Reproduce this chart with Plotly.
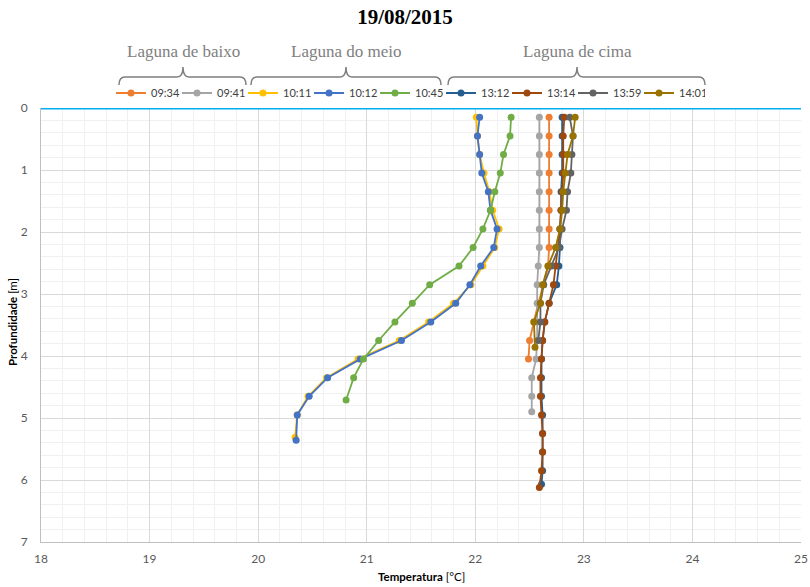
import plotly.graph_objects as go

# ---------------- data ----------------
series_names = ["09:34", "09:41", "10:11", "10:12", "10:45", "13:12", "13:14", "13:59", "14:01"]
series_colors = ["#ED7D31", "#A5A5A5", "#FFC000", "#4472C4", "#70AD47", "#255E91", "#9E480E", "#636363", "#997300"]

depth_0934 = [0.15, 0.45, 0.75, 1.05, 1.35, 1.65, 1.95, 2.25, 2.55, 2.85, 3.15, 3.45, 3.75, 4.05]
temp_0934 = [22.68, 22.68, 22.68, 22.68, 22.68, 22.68, 22.68, 22.68, 22.67, 22.63, 22.58, 22.54, 22.50, 22.49]

depth_0941 = [0.15, 0.45, 0.75, 1.05, 1.35, 1.65, 1.95, 2.25, 2.55, 2.85, 3.15, 3.45, 3.75, 4.05, 4.35, 4.65, 4.90]
temp_0941 = [22.59, 22.59, 22.59, 22.59, 22.59, 22.59, 22.59, 22.59, 22.58, 22.57, 22.57, 22.57, 22.57, 22.56, 22.52, 22.52, 22.52]

depth_1011 = [0.15, 0.45, 0.75, 1.05, 1.35, 1.65, 1.95, 2.25, 2.55, 2.85, 3.15, 3.45, 3.75, 4.05, 4.35, 4.65, 4.95, 5.31]
temp_1011 = [22.01, 22.02, 22.04, 22.08, 22.13, 22.16, 22.22, 22.18, 22.07, 21.96, 21.80, 21.57, 21.30, 20.92, 20.63, 20.46, 20.36, 20.34]

depth_1012 = [0.15, 0.45, 0.75, 1.05, 1.35, 1.65, 1.95, 2.25, 2.55, 2.85, 3.15, 3.45, 3.75, 4.05, 4.35, 4.65, 4.95, 5.36]
temp_1012 = [22.04, 22.02, 22.04, 22.06, 22.12, 22.14, 22.20, 22.17, 22.05, 21.95, 21.82, 21.59, 21.32, 20.94, 20.64, 20.47, 20.36, 20.35]

depth_1045 = [0.15, 0.45, 0.75, 1.05, 1.35, 1.65, 1.95, 2.25, 2.55, 2.85, 3.15, 3.45, 3.75, 4.05, 4.35, 4.71]
temp_1045 = [22.33, 22.32, 22.26, 22.23, 22.18, 22.14, 22.07, 21.98, 21.85, 21.58, 21.42, 21.26, 21.11, 20.97, 20.88, 20.81]

depth_1312 = [0.15, 0.45, 0.75, 1.05, 1.35, 1.65, 1.95, 2.25, 2.55, 2.85, 3.15, 3.45, 3.75, 4.05, 4.35, 4.65, 4.95, 5.25, 5.55, 5.85, 6.07]
temp_1312 = [22.80, 22.80, 22.80, 22.80, 22.79, 22.79, 22.78, 22.78, 22.77, 22.75, 22.68, 22.64, 22.62, 22.61, 22.61, 22.61, 22.62, 22.62, 22.62, 22.62, 22.61]

depth_1314 = [0.15, 0.45, 0.75, 1.05, 1.35, 1.65, 1.95, 2.25, 2.55, 2.85, 3.15, 3.45, 3.75, 4.05, 4.35, 4.65, 4.95, 5.25, 5.55, 5.85, 6.12]
temp_1314 = [22.82, 22.81, 22.81, 22.81, 22.80, 22.79, 22.78, 22.76, 22.74, 22.72, 22.68, 22.64, 22.62, 22.61, 22.60, 22.60, 22.61, 22.62, 22.62, 22.61, 22.59]

depth_1359 = [0.15, 0.45, 0.75, 1.05, 1.35, 1.65, 1.95, 2.25, 2.55, 2.85, 3.15, 3.45, 3.75]
temp_1359 = [22.87, 22.90, 22.89, 22.88, 22.85, 22.84, 22.80, 22.77, 22.70, 22.63, 22.60, 22.60, 22.58]

depth_1401 = [0.15, 0.45, 0.75, 1.05, 1.35, 1.65, 1.95, 2.25, 2.55, 2.85, 3.15, 3.45, 3.86]
temp_1401 = [22.92, 22.90, 22.85, 22.83, 22.81, 22.80, 22.78, 22.74, 22.67, 22.62, 22.60, 22.54, 22.55]

group_labels = ["Laguna de baixo", "Laguna do meio", "Laguna de cima"]

x_ticks = [18, 19, 20, 21, 22, 23, 24, 25]
y_ticks = [0, 1, 2, 3, 4, 5, 6, 7]

depths = [depth_0934, depth_0941, depth_1011, depth_1012, depth_1045, depth_1312, depth_1314, depth_1359, depth_1401]
temps = [temp_0934, temp_0941, temp_1011, temp_1012, temp_1045, temp_1312, temp_1314, temp_1359, temp_1401]

# ---------------- layout geometry (pixels) ----------------
W, H = 810, 587
ML, MR, MT, MB = 41, 9, 108, 45
PW, PH = W - ML - MR, H - MT - MB


def px(xpix):
    return (xpix - ML) / PW


def py(ypix):
    return (H - MB - ypix) / PH


fig = go.Figure()
for name, color, d, t in zip(series_names, series_colors, depths, temps):
    fig.add_trace(go.Scatter(
        x=t, y=d, name=name, mode="lines+markers",
        line=dict(color=color, width=1.8),
        marker=dict(color=color, size=7),
    ))

label_font = dict(family="Lato, Open Sans, sans-serif", size=12, color="#595959")

fig.update_layout(
    width=W, height=H,
    margin=dict(l=ML, r=MR, t=MT, b=MB, autoexpand=False),
    paper_bgcolor="white", plot_bgcolor="white",
    title=dict(text="<b>19/08/2015</b>", x=0.5, xanchor="center",
               y=1 - 17 / H, yanchor="middle", yref="container",
               font=dict(family="Liberation Serif, serif", size=21, color="black")),
    showlegend=True,
    legend=dict(orientation="h", x=px(111), xanchor="left", xref="paper",
                y=py(93), yanchor="middle", yref="paper",
                entrywidth=21, entrywidthmode="pixels", itemwidth=30,
                font=dict(family="Lato, sans-serif", size=11, color="#404040"),
                bgcolor="rgba(0,0,0,0)", tracegroupgap=0),
    xaxis=dict(range=[18, 25], tickvals=x_ticks, ticktext=[str(v) for v in x_ticks],
               showgrid=True, gridcolor="#D9D9D9", gridwidth=1,
               minor=dict(dtick=0.2, showgrid=True, gridcolor="#F0F0F0", gridwidth=1),
               showline=True, linecolor="#BFBFBF", linewidth=1,
               zeroline=False, ticks="", tickfont=label_font, ticklabelstandoff=6),
    yaxis=dict(range=[7, 0], tickvals=y_ticks, ticktext=[str(v) for v in y_ticks],
               showgrid=True, gridcolor="#D9D9D9", gridwidth=1,
               minor=dict(dtick=0.2, showgrid=True, gridcolor="#F0F0F0", gridwidth=1),
               showline=True, linecolor="#BFBFBF", linewidth=1,
               zeroline=False, ticks="", tickfont=label_font, ticklabelstandoff=10),
)

# cyan axis line at depth 0
fig.add_shape(type="line", xref="paper", yref="y", x0=0, x1=1, y0=0, y1=0,
              line=dict(color="#00B0F0", width=3), layer="above")

# axis titles
fig.add_annotation(text="<b>Temperatura</b> [°C]", xref="paper", yref="paper",
                   x=0.5, y=0, yanchor="middle", yshift=-34, showarrow=False,
                   font=dict(family="Lato, sans-serif", size=11.5, color="black"))
fig.add_annotation(text="<b>Profundidade</b> [m]", xref="paper", yref="paper",
                   x=px(12), y=py(322), xanchor="center", yanchor="middle",
                   textangle=-90, showarrow=False,
                   font=dict(family="Lato, sans-serif", size=11.5, color="black"))

# group brackets and labels
brackets = [(119, 183, 246), (251, 346, 441), (448, 577, 705)]
y_end, y_bar, y_peak, r = 85, 77, 67, 6
for (xl, xc, xr), lab in zip(brackets, group_labels):
    pts = [
        ("M", xl, y_end), ("Q", xl, y_bar, xl + r, y_bar), ("L", xc - r, y_bar),
        ("Q", xc, y_bar, xc, y_peak), ("Q", xc, y_bar, xc + r, y_bar),
        ("L", xr - r, y_bar), ("Q", xr, y_bar, xr, y_end),
    ]
    path = ""
    for p in pts:
        cmd, *coords = p
        c = []
        for i in range(0, len(coords), 2):
            c.append(f"{px(coords[i]):.5f},{py(coords[i + 1]):.5f}")
        path += cmd + " ".join(c) + " "
    fig.add_shape(type="path", xref="paper", yref="paper", path=path.strip(),
                  line=dict(color="#7F7F7F", width=1.5))
    fig.add_annotation(text=lab, xref="paper", yref="paper", x=px(xc), y=py(52),
                       xanchor="center", yanchor="middle", showarrow=False,
                       font=dict(family="Liberation Serif, serif", size=17, color="#808080"))

fig.write_html("out.html")
